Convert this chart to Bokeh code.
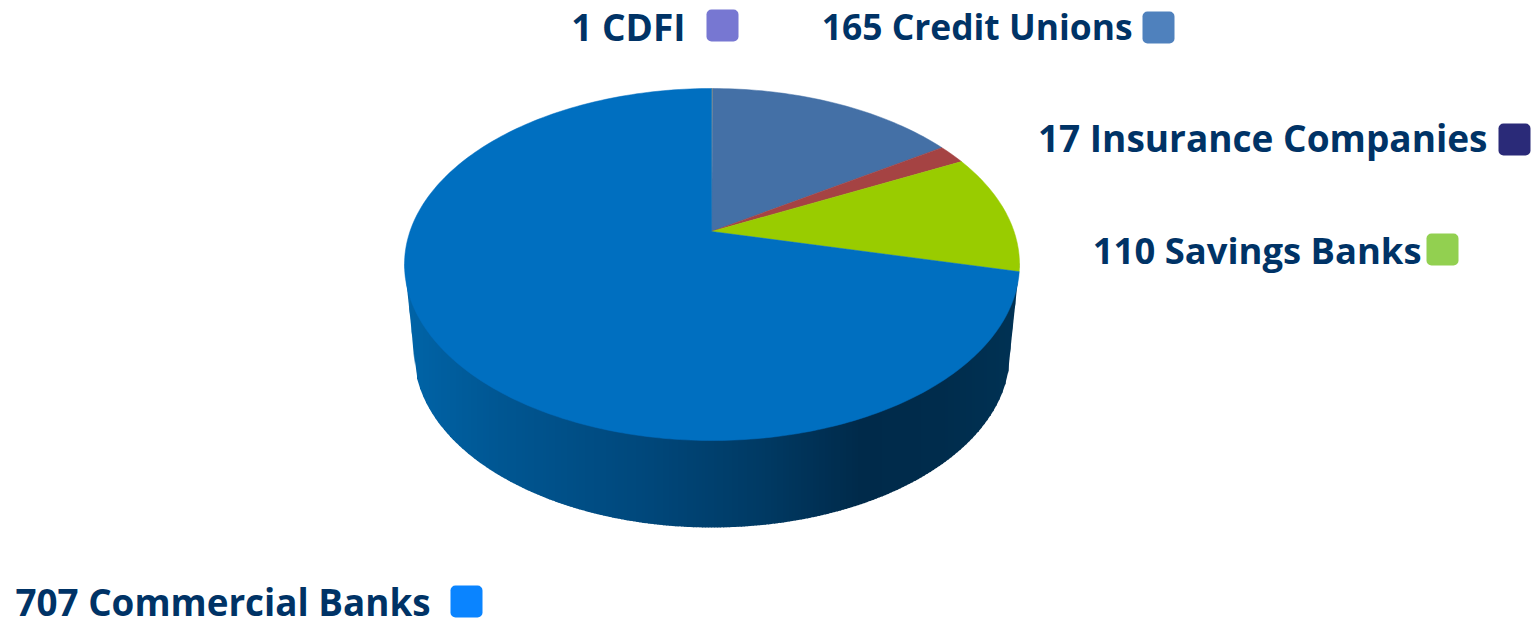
import numpy as np
from bokeh.plotting import figure
from bokeh.embed import file_html
from bokeh.resources import INLINE
from bokeh.core.properties import value as bvalue

categories = ["CDFI", "Credit Unions", "Insurance Companies", "Savings Banks", "Commercial Banks"]
counts = [1, 165, 17, 110, 707]
slice_colors = ["#8a8a7a", "#4470a6", "#a54343", "#99cc00", "#006fc0"]
legend_labels = ["1 CDFI", "165 Credit Unions", "17 Insurance Companies", "110 Savings Banks", "707 Commercial Banks"]
legend_colors = ["#7777d2", "#4f81bd", "#2a2a78", "#92d050", "#0a84ff"]
legend_text_right = [685, 1132, 1487, 1421, 430]
legend_y = [26, 25, 137, 249, 601]
legend_swatch_x = [722, 1158, 1514, 1442, 466]
legend_swatch_y = [25, 27, 139, 249, 601]
legend_font_px = [37, 35.4, 37, 36.4, 36.8]

W, H = 1538, 619


def Y(py):
    return H - py


CX, CY, A, B = 711.5, 264.0, 307.5, 176.0      # top face
AX, AY = 711.0, 231.0                          # apex of the slices
BCY, BA, BB = 353.0, 298.0, 174.0              # bottom rim
SQUASH_BACK, SQUASH_FRONT = 192.0, 145.0       # ray shape behind / in front of the apex


def rim_point(theta):
    # ray from the apex meets the ellipse of the top face
    dx = np.sin(theta) * A
    dy = -np.cos(theta) * (SQUASH_BACK if np.cos(theta) > 0 else SQUASH_FRONT)
    ex, ey = AX - CX, AY - CY
    a = (dx / A) ** 2 + (dy / B) ** 2
    b = 2 * (ex * dx / A ** 2 + ey * dy / B ** 2)
    c = (ex / A) ** 2 + (ey / B) ** 2 - 1
    s = (-b + np.sqrt(b * b - 4 * a * c)) / (2 * a)
    return AX + s * dx, AY + s * dy


def rim_param(theta):
    x, y = rim_point(theta)
    return np.arctan2((x - CX) / A, -(y - CY) / B)


p = figure(width=W, height=H, x_range=(0, W), y_range=(0, H),
           output_backend="svg", toolbar_location=None,
           min_border=0, outline_line_color=None)
p.xaxis.visible = False
p.yaxis.visible = False
p.grid.visible = False
p.background_fill_color = "white"
p.border_fill_color = "white"


def top_lower(x):
    return CY + B * np.sqrt(np.clip(1 - ((x - CX) / A) ** 2, 0, 1))


def wall_bottom(x):
    # the wall tapers straight down from the rim, then follows the lower rim
    left, right = CX - BA, CX + BA
    if x < left:
        return CY + (x - (CX - A)) * (BCY - CY) / (left - (CX - A))
    if x > right:
        return CY + ((CX + A) - x) * (BCY - CY) / ((CX + A) - right)
    return BCY + BB * np.sqrt(np.clip(1 - ((x - CX) / BA) ** 2, 0, 1))


# side wall, shaded in narrow vertical strips
stops_x = [404, 500, 640, 760, 860, 940, 1019]
stops_rgb = [(0, 100, 168), (0, 86, 146), (0, 72, 124), (0, 58, 100), (0, 42, 74), (0, 44, 76), (0, 50, 84)]
edges = np.concatenate([np.linspace(CX - A, CX - BA, 5)[:-1], np.arange(CX - BA, CX + BA, 3.0),
                        np.linspace(CX + BA, CX + A, 5)])
xs, ys, cols = [], [], []
for x0, x1 in zip(edges[:-1], edges[1:]):
    x1b = min(x1 + 0.6, CX + A)
    xs.append([x0, x1b, x1b, x0])
    ys.append([Y(top_lower(x0) - 2), Y(top_lower(x1b) - 2), Y(wall_bottom(x1b)), Y(wall_bottom(x0))])
    cols.append("#%02x%02x%02x" % tuple(int(round(np.interp((x0 + x1) / 2, stops_x, [c[i] for c in stops_rgb])))
                                        for i in range(3)))
p.patches(xs, ys, fill_color=cols, line_color=None)

# top face
total = sum(counts)
cum = np.cumsum([0] + counts) / total * 2 * np.pi
for i, col in enumerate(slice_colors):
    t0, t1 = rim_param(cum[i]), rim_param(cum[i + 1])
    if t1 < t0:
        t1 += 2 * np.pi
    n = max(2, int(np.degrees(t1 - t0)))
    tt = np.linspace(t0, t1, n)
    px_ = [AX] + list(CX + A * np.sin(tt))
    py_ = [AY] + list(CY - B * np.cos(tt))
    p.patch(px_, [Y(v) for v in py_], fill_color=col, line_color=col, line_width=0.5)

# labels and colour keys
p.text(legend_text_right, [Y(v) for v in legend_y], text=legend_labels,
       text_font=bvalue("Open Sans"), text_font_style="bold",
       text_font_size=[f"{s}px" for s in legend_font_px], text_color="#003366",
       text_align="right", text_baseline="middle")
p.rect(legend_swatch_x, [Y(v) for v in legend_swatch_y], width=32, height=32,
       fill_color=legend_colors, line_color=None, border_radius=5)

open("out.html", "w").write(file_html(p, INLINE))
